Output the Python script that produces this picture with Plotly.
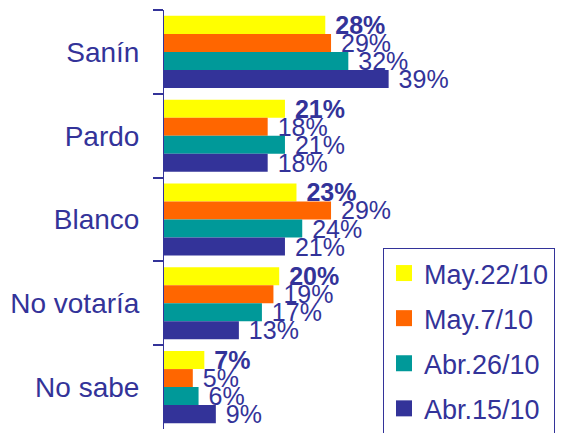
import plotly.graph_objects as go

categories = ["Sanín", "Pardo", "Blanco", "No votaría", "No sabe"]
series_names = ["May.22/10", "May.7/10", "Abr.26/10", "Abr.15/10"]
may22 = [28, 21, 23, 20, 7]
may7 = [29, 18, 29, 19, 5]
abr26 = [32, 21, 24, 17, 6]
abr15 = [39, 18, 21, 13, 9]
series_values = [may22, may7, abr26, abr15]
colors = ["#FFFF00", "#FF6600", "#009999", "#333399"]
NAVY = "#333399"
FONT = "Liberation Sans, Arial, sans-serif"

fig = go.Figure()
for i, (name, vals, col) in enumerate(zip(series_names, series_values, colors)):
    fig.add_trace(go.Bar(
        y=categories, x=vals, orientation="h", name=name,
        marker=dict(color=col, line=dict(width=0)),
        text=[f" {v}%" for v in vals], textposition="outside",
        constraintext="none", cliponaxis=False,
        textfont=dict(family=FONT, size=25, color=NAVY,
                      weight="bold" if i == 0 else "normal"),
        showlegend=False, hoverinfo="skip",
    ))
for i, (name, col) in enumerate(zip(series_names, colors)):
    fig.add_trace(go.Scatter(
        x=[None], y=[None], mode="markers", name=name,
        marker=dict(symbol="square", size=16, color=col),
        legendgroup=name, showlegend=True,
    ))

fig.update_layout(
    width=562, height=433,
    margin=dict(l=164, r=2, t=10, b=4, autoexpand=False),
    paper_bgcolor="white", plot_bgcolor="white",
    barmode="group", bargap=0.14, bargroupgap=0,
    font=dict(family=FONT, color=NAVY),
    legend=dict(
        x=(383 - 164) / 396, y=1 - (248 - 10) / 419,
        xanchor="left", yanchor="top",
        bordercolor=NAVY, borderwidth=1, bgcolor="white",
        font=dict(family=FONT, size=27, color=NAVY),
        tracegroupgap=7, traceorder="grouped",
        itemsizing="trace",
    ),
)
fig.update_xaxes(range=[0, 68.75], visible=False, showgrid=False, zeroline=False)
fig.update_yaxes(
    autorange="reversed", type="category",
    showline=True, linecolor=NAVY, linewidth=1,
    ticks="outside", ticklen=10, tickcolor=NAVY, tickwidth=2,
    tickson="boundaries", showgrid=False,
    tickfont=dict(family=FONT, size=28, color=NAVY),
    ticklabelstandoff=18,
)
fig.write_html("out.html",
               config={"displayModeBar": False},
               post_script="document.body.style.margin='0';document.body.style.overflow='hidden';")
